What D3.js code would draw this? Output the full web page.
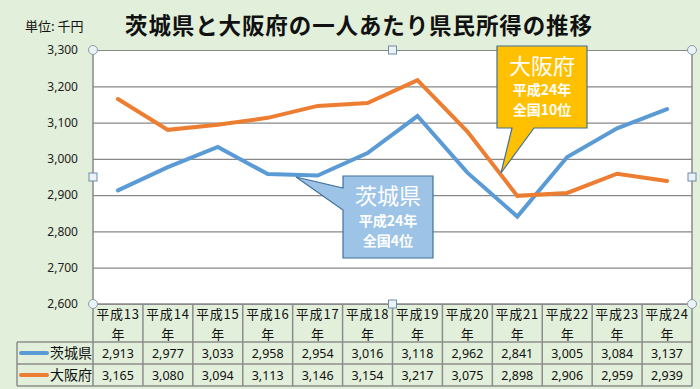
<!DOCTYPE html>
<html>
<head>
<meta charset="utf-8">
<script src="https://cdn.jsdelivr.net/npm/d3@7"></script>
<style>
  body { margin: 0; background: #E2EFDA; }
  svg { display: block; font-family: "Noto Sans CJK JP", "Noto Sans", sans-serif; }
</style>
</head>
<body>
<div id="chart"></div>
<script>
// data
var years = ["平成13", "平成14", "平成15", "平成16", "平成17", "平成18",
             "平成19", "平成20", "平成21", "平成22", "平成23", "平成24"];
var ibaraki = [2913, 2977, 3033, 2958, 2954, 3016, 3118, 2962, 2841, 3005, 3084, 3137];
var osaka = [3165, 3080, 3094, 3113, 3146, 3154, 3217, 3075, 2898, 2906, 2959, 2939];
var yTicks = [2600, 2700, 2800, 2900, 3000, 3100, 3200, 3300];

var width = 700, height = 389;
// plot box (note: "top" is reserved on window, so use plot* names)
var plotLeft = 93, plotRight = 692, plotTop = 50, plotBottom = 304;
var tableLeft = 17;
var rowLabelBottom = 342, row1Bottom = 364, row2Bottom = 386;

var series = [
    {name: "茨城県", values: ibaraki, color: "#5B9BD5"},
    {name: "大阪府", values: osaka, color: "#ED7D31"}
];

var fmt = d3.format(",");

var svg = d3.select("#chart").append("svg")
    .attr("width", width)
    .attr("height", height);

svg.append("rect")
    .attr("width", width).attr("height", height)
    .attr("fill", "#E2EFDA");

var x = d3.scaleBand().domain(years).range([plotLeft, plotRight]);
var y = d3.scaleLinear().domain([2600, 3300]).range([plotBottom, plotTop]);
var cx = function(d){ return x(d) + x.bandwidth() / 2; };

// plot area
svg.append("rect")
    .attr("x", plotLeft).attr("y", plotTop)
    .attr("width", plotRight - plotLeft).attr("height", plotBottom - plotTop)
    .attr("fill", "#fff");

// grid lines
var grid = svg.append("g")
    .attr("transform", "translate(" + plotLeft + ",0)")
    .call(d3.axisLeft(y).tickValues(yTicks).tickSize(-(plotRight - plotLeft)).tickFormat(""));
grid.select(".domain").remove();
grid.selectAll("line").attr("stroke", "#888").attr("stroke-width", 1.2);

// y labels
var yAxis = svg.append("g")
    .attr("transform", "translate(" + (plotLeft - 12) + ",0)")
    .call(d3.axisLeft(y).tickValues(yTicks).tickSize(0).tickFormat(fmt));
yAxis.select(".domain").remove();
yAxis.selectAll("text")
    .attr("font-size", "12px")
    .attr("fill", "#222")
    .attr("font-family", "'Noto Sans', sans-serif");

// left / right borders
svg.append("line")
    .attr("x1", plotLeft).attr("x2", plotLeft).attr("y1", plotTop).attr("y2", row2Bottom)
    .attr("stroke", "#888").attr("stroke-width", 1.5);
svg.append("line")
    .attr("x1", plotRight).attr("x2", plotRight).attr("y1", plotTop).attr("y2", row2Bottom)
    .attr("stroke", "#888").attr("stroke-width", 1.5);

// lines
var line = d3.line()
    .x(function(d, i){ return cx(years[i]); })
    .y(function(d){ return y(d); });

svg.selectAll("path.series")
    .data(series)
    .enter()
    .append("path")
    .attr("class", "series")
    .attr("d", function(d){ return line(d.values); })
    .attr("fill", "none")
    .attr("stroke", function(d){ return d.color; })
    .attr("stroke-width", 4)
    .attr("stroke-linejoin", "miter")
    .attr("stroke-linecap", "round");

// data table
var table = svg.append("g").attr("class", "table");
var gridColor = "#8c8c8c";

[rowLabelBottom, row1Bottom, row2Bottom].forEach(function(yy){
    table.append("line")
        .attr("x1", tableLeft).attr("x2", plotRight)
        .attr("y1", yy).attr("y2", yy)
        .attr("stroke", gridColor).attr("stroke-width", 1.5);
});
table.append("line")
    .attr("x1", plotLeft).attr("x2", plotRight)
    .attr("y1", plotBottom).attr("y2", plotBottom)
    .attr("stroke", gridColor).attr("stroke-width", 1.5);
table.append("line")
    .attr("x1", tableLeft).attr("x2", tableLeft)
    .attr("y1", rowLabelBottom).attr("y2", row2Bottom)
    .attr("stroke", gridColor).attr("stroke-width", 1.5);

table.selectAll("line.col")
    .data(years.slice(1))
    .enter()
    .append("line")
    .attr("class", "col")
    .attr("x1", function(d){ return x(d); })
    .attr("x2", function(d){ return x(d); })
    .attr("y1", plotBottom).attr("y2", row2Bottom)
    .attr("stroke", gridColor).attr("stroke-width", 1.5);

// category labels: "平成NN" over "年", as two separate texts
table.selectAll("text.cat")
    .data(years)
    .enter()
    .append("text")
    .attr("class", "cat")
    .attr("x", cx)
    .attr("y", plotBottom + 15)
    .attr("text-anchor", "middle")
    .attr("font-size", "13px")
    .attr("letter-spacing", "0.8px")
    .attr("fill", "#111")
    .text(function(d){ return d; });
table.selectAll("text.nen")
    .data(years)
    .enter()
    .append("text")
    .attr("class", "nen")
    .attr("x", cx)
    .attr("y", plotBottom + 34.5)
    .attr("text-anchor", "middle")
    .attr("font-size", "13px")
    .attr("fill", "#111")
    .text("年");

var rowTops = [rowLabelBottom, row1Bottom];
series.forEach(function(s, si){
    var rowMid = rowTops[si] + 11;
    table.append("line")
        .attr("x1", 21).attr("x2", 47)
        .attr("y1", rowMid).attr("y2", rowMid)
        .attr("stroke", s.color).attr("stroke-width", 4)
        .attr("stroke-linecap", "round");
    table.append("text")
        .attr("x", 50).attr("y", rowMid + 5)
        .attr("font-size", "14px")
        .attr("fill", "#111")
        .text(s.name);
    table.selectAll("text.val" + si)
        .data(s.values)
        .enter()
        .append("text")
        .attr("class", "val" + si)
        .attr("x", function(d, i){ return cx(years[i]); })
        .attr("y", rowMid + 5)
        .attr("text-anchor", "middle")
        .attr("font-size", "12.5px")
        .attr("font-family", "'Noto Sans', sans-serif")
        .attr("fill", "#111")
        .text(function(d){ return fmt(d); });
});

// title
svg.append("text")
    .attr("x", 25).attr("y", 31)
    .attr("font-size", "13px")
    .attr("fill", "#111")
    .text("単位: 千円");
svg.append("text")
    .attr("x", 125).attr("y", 34)
    .attr("font-size", "22.5px")
    .attr("font-weight", "bold")
    .attr("fill", "#111")
    .attr("textLength", 467)
    .attr("lengthAdjust", "spacing")
    .text("茨城県と大阪府の一人あたり県民所得の推移");

// callouts
function callout(box, tip, base, fill, lines){
    var g = svg.append("g");
    var pts;
    if (base.side === "bottom") {
        pts = [[box.x, box.y], [box.x + box.w, box.y], [box.x + box.w, box.y + box.h],
               [base.b, box.y + box.h], tip, [base.a, box.y + box.h], [box.x, box.y + box.h]];
    } else {
        pts = [[box.x, box.y], [box.x + box.w, box.y], [box.x + box.w, box.y + box.h],
               [box.x, box.y + box.h], [box.x, base.b], tip, [box.x, base.a]];
    }
    g.append("path")
        .attr("d", "M" + pts.join("L") + "Z")
        .attr("fill", fill)
        .attr("stroke", "#41719C")
        .attr("stroke-width", 1.2);
    lines.forEach(function(l){
        g.append("text")
            .attr("x", box.x + box.w / 2)
            .attr("y", box.y + l.dy)
            .attr("text-anchor", "middle")
            .attr("font-size", l.size)
            .attr("font-weight", l.weight)
            .attr("fill", "#fff")
            .text(l.text);
    });
}

callout({x: 497, y: 46, w: 90, h: 82}, [501, 173], {side: "bottom", a: 512, b: 534}, "#FFC000", [
    {text: "大阪府", size: "22px", weight: "normal", dy: 28},
    {text: "平成24年", size: "14px", weight: "bold", dy: 49},
    {text: "全国10位", size: "14px", weight: "bold", dy: 69}
]);
callout({x: 343, y: 176, w: 90, h: 82}, [296, 177], {side: "left", a: 188, b: 210}, "#9DC3E6", [
    {text: "茨城県", size: "22px", weight: "normal", dy: 28},
    {text: "平成24年", size: "14px", weight: "bold", dy: 50},
    {text: "全国4位", size: "14px", weight: "bold", dy: 70}
]);

// selection handles
var mid = (plotLeft + plotRight) / 2, vmid = (plotTop + plotBottom) / 2;
var circles = [[plotLeft, plotTop], [plotRight, plotTop], [plotLeft, plotBottom], [plotRight, plotBottom]];
var squares = [[mid, plotTop], [mid, plotBottom], [plotLeft, vmid], [plotRight, vmid]];
svg.selectAll("circle.handle")
    .data(circles)
    .enter()
    .append("circle")
    .attr("class", "handle")
    .attr("cx", function(d){ return d[0]; })
    .attr("cy", function(d){ return d[1]; })
    .attr("r", 4.5)
    .attr("fill", "#EAF3F8")
    .attr("stroke", "#8A9BA8");
svg.selectAll("rect.handle")
    .data(squares)
    .enter()
    .append("rect")
    .attr("class", "handle")
    .attr("x", function(d){ return d[0] - 4; })
    .attr("y", function(d){ return d[1] - 4; })
    .attr("width", 8).attr("height", 8)
    .attr("fill", "#EAF3F8")
    .attr("stroke", "#6E8CA8");
</script>
</body>
</html>
